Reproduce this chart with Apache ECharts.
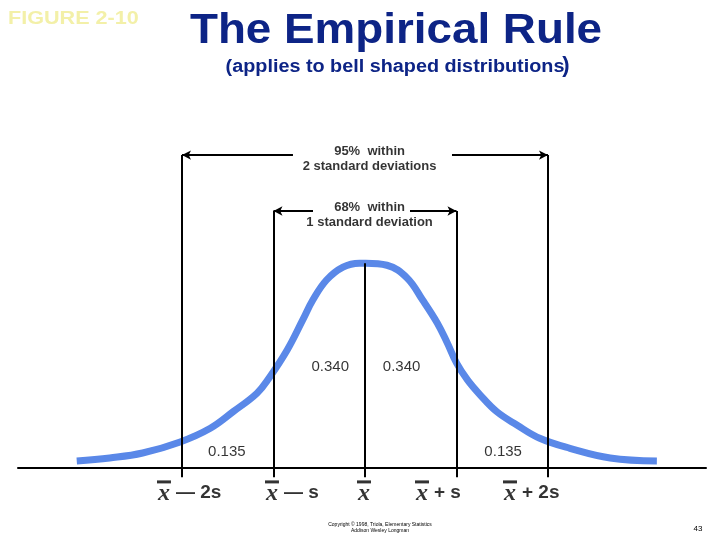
<!DOCTYPE html>
<html><head><meta charset="utf-8">
<script src="https://cdn.jsdelivr.net/npm/echarts@6/dist/echarts.min.js"></script>
<style>html,body{margin:0;padding:0;background:#fff}#c{width:720px;height:540px}</style>
</head><body><div id="c"></div>
<script>
// Bell curve (x in standard deviations, y relative to the peak)
const curveX = [-3.15,-2.79,-2.43,-2.02,-1.69,-1.44,-1.18,-1.05,-0.85,-0.68,-0.57,-0.42,-0.24,-0.06,0.01,0.24,0.46,0.63,0.79,0.90,1.00,1.12,1.26,1.44,1.66,1.91,2.24,2.68,3.19];
const curveY = [0.034,0.049,0.073,0.127,0.194,0.275,0.365,0.438,0.576,0.723,0.820,0.918,0.981,1.000,1.000,0.990,0.928,0.820,0.708,0.610,0.513,0.430,0.356,0.275,0.210,0.145,0.096,0.049,0.034];
const sdPositions = [-2,-1,0,1,2];
const sdLineTops = [1.528,1.255,1.0,1.255,1.528];
const tickOps = ['— 2s','— s','','+ s','+ 2s'];
const areaLabels = ['0.135','0.340','0.340','0.135'];
const areaLabelX = [-1.51,-0.38,0.40,1.51];
const areaLabelY = [0.078,0.493,0.493,0.078];
const bracketTexts = ['95%  within\n2 standard deviations','68%  within\n1 standard deviation'];
const bracketSd = [2,1];
const bracketLevel = [1.528,1.255];
const bracketGap = [[-0.787,0.951],[-0.568,0.492]];

const S = { blue:'#5a88e8', navy:'#0d2486' };
const symOffsets = [-18,-1.5,-1,-34.5,-38]; // px shift of the x-bar symbol from its tick
const opGap = 12;

const lineMarks = [];
sdPositions.forEach((p,i)=>{
  lineMarks.push([{coord:[p,-0.045],symbol:'none'},{coord:[p,sdLineTops[i]],symbol:'none'}]);
});
bracketSd.forEach((s,i)=>{
  const y = bracketLevel[i];
  lineMarks.push([{coord:[bracketGap[i][0],y],symbol:'none'},{coord:[-s,y],symbol:'arrow'}]);
  lineMarks.push([{coord:[bracketGap[i][1],y],symbol:'none'},{coord:[s,y],symbol:'arrow'}]);
});

const noBorder = {textBorderWidth:0,textBorderColor:'transparent',textShadowBlur:0};

const textPoints = [];
areaLabels.forEach((t,i)=>textPoints.push({value:[areaLabelX[i],areaLabelY[i]],label:{formatter:t,fontSize:15}}));
bracketTexts.forEach((t,i)=>textPoints.push({value:[0.05,bracketLevel[i]-0.02],label:{formatter:t,fontSize:13,fontWeight:'bold',lineHeight:15}}));

const symPoints = sdPositions.map((p,i)=>({value:[p,-0.112],label:{offset:[symOffsets[i],0]}}));
const opPoints = sdPositions.map((p,i)=>({value:[p,-0.12],label:{formatter:tickOps[i],offset:[symOffsets[i]+opGap,0]}}));

const chart = echarts.init(document.getElementById('c'), null, {renderer:'canvas'});
chart.setOption({
  backgroundColor:'#fff',
  animation:false,
  grid:{left:18,right:14,top:130.1,bottom:10.6},
  xAxis:{type:'value',min:-3.792,max:3.727,splitLine:{show:false},axisTick:{show:false},axisLabel:{show:false},
    axisLine:{show:true,onZero:true,lineStyle:{color:'#000',width:2}}},
  yAxis:{type:'value',min:-0.3,max:1.65,show:false,splitLine:{show:false}},
  graphic:[
    {type:'text',x:8,y:19,scaleX:1.2,style:{text:'FIGURE 2-10',font:'bold 18px "Liberation Sans", Arial, sans-serif',fill:'#f3f0a8',verticalAlign:'middle'}},
    {type:'text',x:396,y:31,scaleX:1.09,style:{text:'The Empirical Rule',font:'bold 42px "Liberation Sans", Arial, sans-serif',fill:S.navy,align:'center',verticalAlign:'middle'}},
    {type:'text',x:395,y:67,scaleX:1.1,style:{text:'(applies to bell shaped distributions',font:'bold 18px "Liberation Sans", Arial, sans-serif',fill:S.navy,align:'center',verticalAlign:'middle'}},
    {type:'text',x:566,y:66,style:{text:')',font:'bold 22px "Liberation Sans", Arial, sans-serif',fill:S.navy,align:'center',verticalAlign:'middle'}},
    {type:'text',x:380,y:528,style:{text:'Copyright © 1998, Triola, Elementary Statistics\nAddison Wesley Longman',font:'5px "Liberation Sans", Arial, sans-serif',lineHeight:6,fill:'#000',align:'center',verticalAlign:'middle'}},
    {type:'text',x:698,y:529,style:{text:'43',font:'8px "Liberation Sans", Arial, sans-serif',fill:'#000',align:'center',verticalAlign:'middle'}}
  ],
  series:[
    {type:'line',data:curveX.map((x,i)=>[x,curveY[i]]),smooth:0.4,showSymbol:false,
      lineStyle:{color:S.blue,width:7,cap:'butt'},z:2},
    {type:'line',data:[],z:5,
      markLine:{silent:true,symbolSize:[7,9],animation:false,label:{show:false},
        lineStyle:{color:'#000',width:2,type:'solid'},data:lineMarks}},
    {type:'scatter',data:textPoints,symbolSize:0,z:6,
      label:Object.assign({show:true,position:'inside',color:'#000',fontFamily:'"Liberation Sans", Arial, sans-serif',align:'center',verticalAlign:'middle'},noBorder)},
    {type:'scatter',data:symPoints,symbolSize:0,z:6,
      label:Object.assign({show:true,position:'inside',color:'#000',align:'center',verticalAlign:'middle',
        formatter:'{bar| }\n{x|x}',
        rich:{bar:{width:14,height:3,lineHeight:6,backgroundColor:'#000',fontSize:2,align:'center'},
              x:{fontFamily:'"Liberation Serif", "DejaVu Serif", serif',fontStyle:'italic',fontSize:24,fontWeight:'bold',lineHeight:18,align:'center'}}},noBorder)},
    {type:'scatter',data:opPoints,symbolSize:0,z:6,
      label:Object.assign({show:true,position:'inside',color:'#000',align:'left',verticalAlign:'middle',
        fontFamily:'"Liberation Sans", Arial, sans-serif',fontSize:19,fontWeight:'bold'},noBorder)}
  ]
});
</script></body></html>
